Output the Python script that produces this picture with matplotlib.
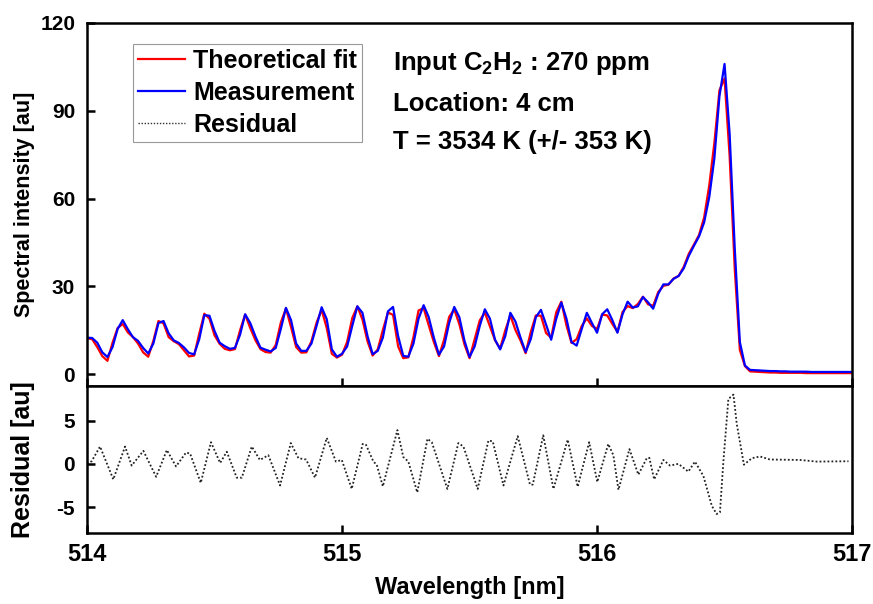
import matplotlib
matplotlib.use('Agg')

import numpy as np
import matplotlib.pyplot as plt

plt.rcParams['font.family'] = ['Liberation Sans', 'DejaVu Sans']
plt.rcParams['font.weight'] = 'bold'
plt.rcParams['mathtext.fontset'] = 'custom'
plt.rcParams['mathtext.rm'] = 'Liberation Sans:bold'
plt.rcParams['mathtext.default'] = 'rm'
plt.rcParams['axes.unicode_minus'] = False

# spectra on a 0.02 nm grid (514.00 .. 517.00)
wl_start, wl_step = 514.0, 0.02

measurement = [
    12.5, 12.4, 10.8, 7.5, 5.9, 9.3, 15.5, 18.5, 15.4, 12.7,
    11.4, 9.0, 7.1, 10.5, 17.5, 18.2, 14.0, 11.6, 10.7, 9.2,
    7.3, 6.8, 12.0, 20.2, 20.0, 14.8, 10.8, 9.6, 8.7, 9.0,
    13.5, 20.5, 17.5, 13.0, 9.1, 8.4, 7.8, 9.0, 15.5, 22.7,
    18.5, 10.5, 8.0, 8.0, 10.5, 16.5, 22.9, 18.8, 8.5, 6.0,
    7.0, 9.5, 16.5, 23.2, 21.0, 13.0, 6.9, 8.0, 12.5, 21.5,
    23.0, 13.0, 6.3, 6.0, 10.5, 19.0, 23.6, 19.5, 12.5, 6.7,
    9.5, 17.5, 23.0, 19.5, 11.5, 5.9, 9.5, 16.5, 22.2, 19.0,
    11.8, 8.5, 13.0, 21.0, 18.0, 12.5, 7.6, 12.0, 19.5, 22.0,
    17.0, 11.8, 19.0, 24.5, 19.0, 11.0, 9.8, 15.5, 21.0, 17.5,
    14.2, 20.5, 22.2, 18.5, 14.2, 20.5, 24.8, 22.8, 23.2, 26.4,
    24.6, 22.4, 27.5, 30.7, 30.7, 32.6, 33.6, 36.2, 40.5, 43.9,
    47.1, 51.9, 60.5, 73.7, 95.0, 106.0, 82.0, 43.0, 11.0, 3.0,
    1.5, 1.4, 1.3, 1.2, 1.1, 1.1, 1.0, 1.0, 0.9, 0.9,
    0.9, 0.9, 0.8, 0.8, 0.8, 0.8, 0.8, 0.8, 0.8, 0.8,
    0.8,
]

theoretical_fit = [
    12.3, 12.0, 9.3, 6.2, 4.6, 10.8, 15.8, 17.2, 14.3, 12.7,
    10.5, 7.5, 6.0, 11.4, 18.2, 17.4, 12.7, 11.3, 10.3, 8.2,
    6.1, 6.4, 13.9, 20.7, 19.0, 13.3, 10.4, 8.7, 8.2, 8.6,
    15.0, 20.4, 15.8, 11.7, 8.6, 7.6, 7.4, 10.0, 17.7, 22.5,
    16.1, 9.3, 7.4, 7.5, 11.3, 17.6, 22.0, 15.8, 7.0, 5.7,
    6.7, 11.1, 19.2, 23.2, 18.7, 11.2, 6.4, 8.5, 15.1, 21.1,
    20.3, 9.5, 5.5, 5.8, 12.7, 21.8, 22.6, 16.7, 11.0, 6.2,
    11.8, 19.6, 22.2, 17.1, 10.2, 5.5, 11.9, 18.4, 21.1, 16.4,
    11.6, 8.8, 15.0, 20.1, 15.1, 11.5, 7.2, 14.4, 20.1, 20.0,
    14.1, 12.5, 21.2, 24.8, 16.7, 10.7, 12.0, 16.5, 19.1, 16.5,
    15.5, 20.4, 20.1, 17.2, 14.5, 21.3, 23.3, 22.6, 24.0, 26.5,
    23.9, 23.4, 28.1, 30.2, 30.6, 32.7, 33.6, 36.7, 41.2, 44.3,
    47.6, 53.6, 64.5, 79.0, 97.0, 101.0, 74.4, 36.0, 8.3, 2.8,
    1.0, 0.9, 0.8, 0.7, 0.6, 0.6, 0.5, 0.5, 0.5, 0.5,
    0.5, 0.4, 0.4, 0.4, 0.4, 0.4, 0.4, 0.4, 0.4, 0.4,
    0.4,
]

# residual, read at its own vertices
resid_wl = [
    514.000, 514.018, 514.051, 514.103, 514.149, 514.175, 514.221, 514.271,
    514.313, 514.349, 514.388, 514.404, 514.446, 514.486, 514.522, 514.548,
    514.587, 514.607, 514.646, 514.678, 514.711, 514.757, 514.799, 514.829,
    514.859, 514.894, 514.940, 514.976, 514.999, 515.038, 515.081, 515.094,
    515.123, 515.136, 515.160, 515.217, 515.240, 515.260, 515.295, 515.335,
    515.352, 515.413, 515.456, 515.476, 515.532, 515.574, 515.591, 515.633,
    515.689, 515.737, 515.748, 515.789, 515.829, 515.885, 515.924, 515.969,
    516.001, 516.044, 516.064, 516.084, 516.127, 516.162, 516.195, 516.205,
    516.224, 516.260, 516.286, 516.319, 516.358, 516.384, 516.417, 516.450,
    516.469, 516.482, 516.495, 516.515, 516.535, 516.548, 516.576, 516.607,
    516.639, 516.678, 516.796, 516.862, 516.986,
]
residual = [
    0.0, 0.3, 2.0, -1.8, 2.0, -0.2, 1.5, -1.5,
    1.6, -0.3, 1.3, 1.2, -2.2, 2.5, 0.1, 1.4,
    -1.6, -1.6, 2.0, 0.45, 1.0, -2.5, 2.4, 0.65,
    0.5, -1.6, 3.0, 0.26, 0.45, -2.9, 2.3, 2.2,
    0.26, -0.1, -2.6, 3.9, 0.8, 0.26, -3.3, 2.9,
    2.5, -2.9, 2.4, 2.0, -2.9, 2.7, 2.6, -2.5,
    3.2, -2.4, -2.4, 3.3, -2.9, 2.8, -2.65, 2.5,
    -2.1, 2.3, 1.0, -3.0, 1.7, -1.25, 0.65, 0.7,
    -1.8, 0.45, -0.2, 0.0, -0.9, 0.26, -1.4, -4.85,
    -5.8, -5.6, 0.1, 7.5, 8.0, 4.6, -0.1, 0.65,
    0.85, 0.5, 0.45, 0.26, 0.3,
]

wavelength = wl_start + wl_step * np.arange(len(measurement))

fig, (ax, axr) = plt.subplots(2, 1, sharex=True, figsize=(8.73, 6.04), dpi=100,
                              gridspec_kw={'height_ratios': [363, 147]})
fig.subplots_adjust(left=0.0997, right=0.976, top=0.962, bottom=0.1175, hspace=0)

dots = (0, (1, 1.2))
ax.plot(wavelength, theoretical_fit, color='#ff0000', lw=1.6, label='Theoretical fit')
ax.plot(wavelength, measurement, color='#0000ff', lw=1.6, label='Measurement')
ax.plot([], [], color='#333333', ls=dots, lw=1.0, label='Residual')

axr.plot(resid_wl, residual, color='#222222', ls=dots, lw=1.3)

ax.set_xlim(514, 517)
ax.set_ylim(-4, 120)
ax.set_yticks([0, 30, 60, 90, 120])
axr.set_ylim(-8, 9)
axr.set_yticks([-5, 0, 5])
axr.set_xticks([514, 515, 516, 517])

for a in (ax, axr):
    for s in a.spines.values():
        s.set_linewidth(1.8)
    a.tick_params(direction='in', length=6, width=1.8, labelsize=15, pad=8.5,
                  top=False, right=False)
ax.tick_params(axis='x', labelbottom=False)
axr.tick_params(axis='x', labelsize=17, pad=7.5)

ax.set_ylabel('Spectral intensity [au]', fontsize=15.5, fontweight='bold')
axr.set_ylabel('Residual [au]', fontsize=18, fontweight='bold')
axr.set_xlabel('Wavelength [nm]', fontsize=17, fontweight='bold', labelpad=7)
fig.align_ylabels([ax, axr])

leg = ax.legend(loc='upper left', bbox_to_anchor=(0.06, 0.942), borderaxespad=0,
                fontsize=18, frameon=True, fancybox=False, edgecolor='#808080',
                handlelength=1.9, handletextpad=0.3, borderpad=0.2,
                labelspacing=0.32)
leg.get_frame().set_linewidth(0.8)

tx = 0.400
ax.text(tx, 0.870, r'Input C$_2$H$_2$ : 270 ppm', transform=ax.transAxes,
        fontsize=18.5, fontweight='bold', va='baseline')
ax.text(tx, 0.758, 'Location: 4 cm', transform=ax.transAxes,
        fontsize=18.5, fontweight='bold', va='baseline')
ax.text(tx, 0.652, 'T = 3534 K (+/- 353 K)', transform=ax.transAxes,
        fontsize=18.5, fontweight='bold', va='baseline')

plt.savefig('out.png', dpi=100)
